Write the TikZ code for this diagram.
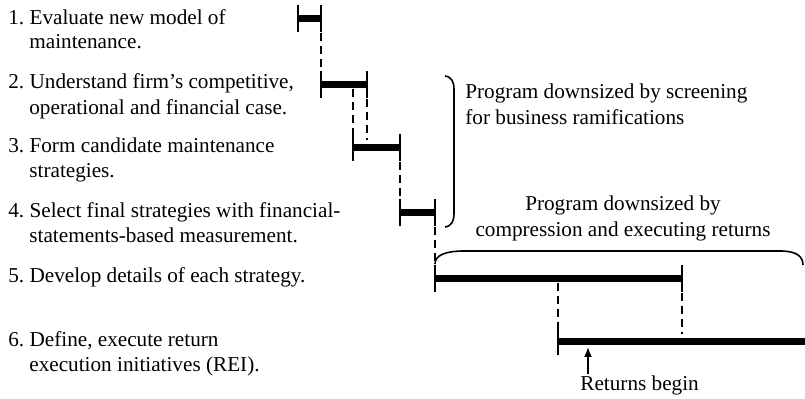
\documentclass[tikz,border=0pt]{standalone}
\usepackage{fontspec}
\setmainfont{Liberation Serif}
\usetikzlibrary{calc,arrows.meta}
\frenchspacing
\begin{document}
\begin{tikzpicture}[x=0.5pt,y=-0.5pt,
  txt/.style={anchor=base west,inner sep=0pt,font=\fontsize{10.6}{13}\selectfont},
  ctxt/.style={anchor=base,inner sep=0pt,font=\fontsize{10.6}{13}\selectfont},
  gbar/.style={line width=3.5pt},
  tick/.style={line width=1pt},
  link/.style={line width=1pt,dash pattern=on 4pt off 2.5pt},
  brk/.style={line width=0.8pt}]
\useasboundingbox (0,0) rectangle (805,399);

% task list
\node[txt] (t1a) at (8,25)  {1. Evaluate new model of};
\node[txt] (t1b) at (29,49) {maintenance.};
\node[txt] (t2a) at (8,89)  {2. Understand firm’s competitive,};
\node[txt] (t2b) at (29,115) {operational and financial case.};
\node[txt] (t3a) at (8,153) {3. Form candidate maintenance};
\node[txt] (t3b) at (29,178) {strategies.};
\node[txt] (t4a) at (8,218) {4. Select final strategies with financial-};
\node[txt] (t4b) at (29,243) {statements-based measurement.};
\node[txt] (t5a) at (8,283) {5. Develop details of each strategy.};
\node[txt] (t6a) at (8,347) {6. Define, execute return};
\node[txt] (t6b) at (29,372) {execution initiatives (REI).};

% bar end points
\coordinate (b1l) at (298,19);  \coordinate (b1r) at (321,19);
\coordinate (b2l) at (321,85);  \coordinate (b2r) at (367,85);
\coordinate (b3l) at (353,148); \coordinate (b3r) at (400,148);
\coordinate (b4l) at (400,213); \coordinate (b4r) at (435,213);
\coordinate (b5l) at (435,279); \coordinate (b5r) at (682,279);
\coordinate (b6l) at (558,342); \coordinate (b6r) at (805,342);

% bars
\foreach \a/\b in {b1l/b1r,b2l/b2r,b3l/b3r,b4l/b4r,b5l/b5r,b6l/b6r}
  \draw[gbar] (\a) -- (\b);
% end ticks
\foreach \p in {b1l,b1r,b2l,b2r,b3l,b3r,b4l,b4r,b5l,b5r,b6l}
  \draw[tick] ($(\p)+(0,-13.5)$) -- ($(\p)+(0,13.5)$);

% dependency links
\draw[link] ($(b1r)+(0,14)$) -- ($(b2l)+(0,-14)$);
\draw[link] ($(b3l|-b2l)+(0,4)$) -- ($(b3l)+(0,-14)$);
\draw[link] ($(b2r)+(0,14)$) -- ($(b2r|-b3l)+(0,-8)$);
\draw[link] ($(b3r)+(0,14)$) -- ($(b4l)+(0,-14)$);
\draw[link] ($(b4r)+(0,14)$) -- ($(b5l)+(0,-14)$);
\draw[link] ($(b6l|-b5l)+(0,4)$) -- ($(b6l)+(0,-14)$);
\draw[link] ($(b5r)+(0,14)$) -- ($(b5r|-b6l)+(0,-8)$);

% bracket for steps 2-4
\coordinate (k1t) at (445,76);
\coordinate (k1b) at (445,227);
\draw[brk] (k1t) .. controls (452,77) and (454,82) .. (454,90)
  -- (454,213) .. controls (454,221) and (452,226) .. (k1b);
\node[txt] (r1a) at (465,99)  {Program downsized by screening};
\node[txt] (r1b) at (465,125) {for business ramifications};

% bracket over steps 5-6
\coordinate (k2l) at (435,264);
\coordinate (k2r) at (803,265);
\draw[brk] (k2l) .. controls (435,255) and (446,251) .. (464,251)
  -- (780,251) .. controls (796,251) and (803,256) .. (k2r);
\node[ctxt] (r2a) at (623,211) {Program downsized by};
\node[ctxt] (r2b) at (623,237) {compression and executing returns};

% returns marker
\coordinate (rb) at (588,347);
\node[txt] (ret) at (580,391) {Returns begin};
\draw[line width=0.8pt,-{Latex[length=5pt,width=4pt]}] (ret.north -| rb) ++(0,-2) -- (rb);
\end{tikzpicture}
\end{document}
